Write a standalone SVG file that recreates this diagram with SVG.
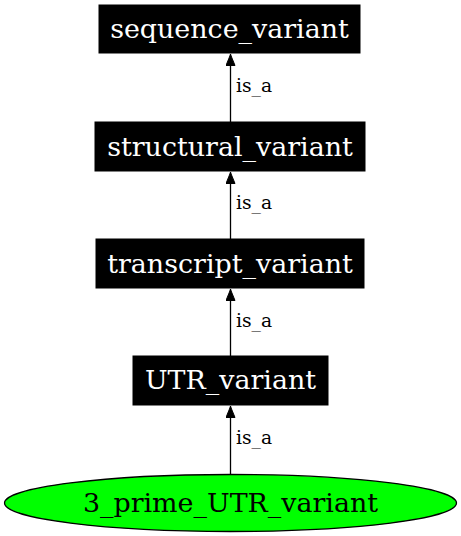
<svg xmlns="http://www.w3.org/2000/svg" width="461" height="536" viewBox="0 0 461 536">
<style>
.box{fill:#000;stroke:#000;stroke-width:1}
.nl{font-family:"DejaVu Serif",serif;font-size:26.9px;text-anchor:middle;fill:#fff}
.el{font-family:"DejaVu Serif",serif;font-size:18.7px;fill:#000}
.edge{stroke:#000;stroke-width:1.3;fill:none}
</style>
<defs>
<marker id="arr" markerWidth="12" markerHeight="10" refX="12" refY="5" orient="auto" markerUnits="userSpaceOnUse" viewBox="0 0 12 10">
<path d="M0.5,0.5 L11.5,5 L0.5,9.5 Z" fill="#000" stroke="#000" stroke-width="1"/>
</marker>
</defs>
<rect width="461" height="536" fill="#fff"/>
<g id="connectors">
<line class="edge" x1="230.5" y1="474" x2="230.5" y2="406" marker-end="url(#arr)"/>
<text class="el" x="236" y="444">is_a</text>
<line class="edge" x1="230.5" y1="356" x2="230.5" y2="289" marker-end="url(#arr)"/>
<text class="el" x="236" y="327">is_a</text>
<line class="edge" x1="230.5" y1="239" x2="230.5" y2="172" marker-end="url(#arr)"/>
<text class="el" x="236" y="209">is_a</text>
<line class="edge" x1="230.5" y1="122" x2="230.5" y2="54" marker-end="url(#arr)"/>
<text class="el" x="236" y="92">is_a</text>
</g>
<g id="sequence_variant">
<rect class="box" x="99" y="5" width="261" height="48"/>
<text class="nl" x="229.5" y="38">sequence_variant</text>
</g>
<g id="structural_variant">
<rect class="box" x="95" y="122" width="270" height="49"/>
<text class="nl" x="230" y="155.5">structural_variant</text>
</g>
<g id="transcript_variant">
<rect class="box" x="96" y="239" width="268" height="49"/>
<text class="nl" x="230" y="272.5">transcript_variant</text>
</g>
<g id="UTR_variant">
<rect class="box" x="133" y="356" width="195" height="49"/>
<text class="nl" x="230.5" y="389">UTR_variant</text>
</g>
<g id="3_prime_UTR_variant">
<ellipse cx="230.5" cy="503" rx="226" ry="28.5" fill="#00ff00" stroke="#000" stroke-width="1.3"/>
<text class="nl" x="230.5" y="511.5" style="fill:#000">3_prime_UTR_variant</text>
</g>
</svg>
